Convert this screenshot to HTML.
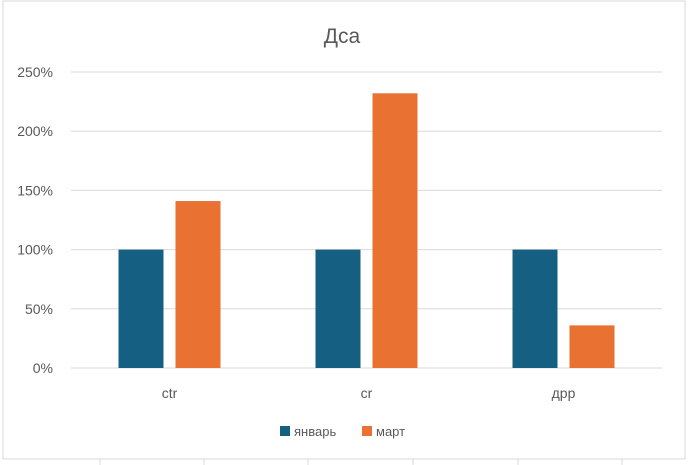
<!DOCTYPE html>
<html><head><meta charset="utf-8"><style>
body{margin:0;background:#fff;width:688px;height:465px;overflow:hidden;font-family:"Liberation Sans","DejaVu Sans",sans-serif}
</style></head><body>
<svg id="chart" width="688" height="465" style="position:absolute;left:0;top:0">
<rect x="3" y="1" width="682" height="458" fill="#fff" stroke="#d9d9d9"/>
<text x="342" y="43" text-anchor="middle" font-size="21" fill="#595959">Дса</text>
<g id="grid"></g><g id="bars"></g><g id="labels"></g>
<g>
<rect x="280" y="426" width="10" height="10" fill="#155f82"/>
<text x="294" y="436" font-size="13" fill="#595959">январь</text>
<rect x="362" y="426" width="10" height="10" fill="#e97132"/>
<text x="376" y="436" font-size="13" fill="#595959">март</text>
</g>
<g stroke="#d9d9d9">
<line x1="100" y1="459" x2="100" y2="465"/><line x1="204" y1="459" x2="204" y2="465"/><line x1="308" y1="459" x2="308" y2="465"/><line x1="413" y1="459" x2="413" y2="465"/><line x1="518" y1="459" x2="518" y2="465"/><line x1="622" y1="459" x2="622" y2="465"/>
</g>
</svg>
<script>
const categories=["ctr","cr","дрр"];
const january=[100,100,100];
const march=[141,232,36];
const ticks=[0,50,100,150,200,250];
const tickLabels=["0%","50%","100%","150%","200%","250%"];
const NS="http://www.w3.org/2000/svg";
const x0=71,x1=662,y0=368,yTop=72,maxV=250;
const y=v=>y0-(v/maxV)*(y0-yTop);
const band=(x1-x0)/categories.length;
function mk(t,a,p){const e=document.createElementNS(NS,t);for(const k in a)e.setAttribute(k,a[k]);p.appendChild(e);return e;}
const grid=document.getElementById('grid'),bars=document.getElementById('bars'),labels=document.getElementById('labels');
ticks.forEach((t,i)=>{
 const l=mk('line',{x1:x0,x2:x1,y1:y(t),y2:y(t),stroke:'#d9d9d9','stroke-width':1},grid);
 
 
 const tx=mk('text',{x:53,y:y(t)+5,'text-anchor':'end','font-size':14,fill:'#595959'},labels);
 tx.textContent=tickLabels[i];
 
 
});
categories.forEach((c,i)=>{
 const cx=x0+band*(i+0.5);
 const bw=45,gap=12;
 const b1=mk('rect',{x:cx-gap/2-bw,y:y(january[i]),width:bw,height:y0-y(january[i]),fill:'#155f82'},bars);
 
 
 const b2=mk('rect',{x:cx+gap/2,y:y(march[i]),width:bw,height:y0-y(march[i]),fill:'#e97132'},bars);
 
 
 const t=mk('text',{x:cx,y:398,'text-anchor':'middle','font-size':14,fill:'#595959'},labels);
 t.textContent=c;
 
 
});
</script>
</body></html>
